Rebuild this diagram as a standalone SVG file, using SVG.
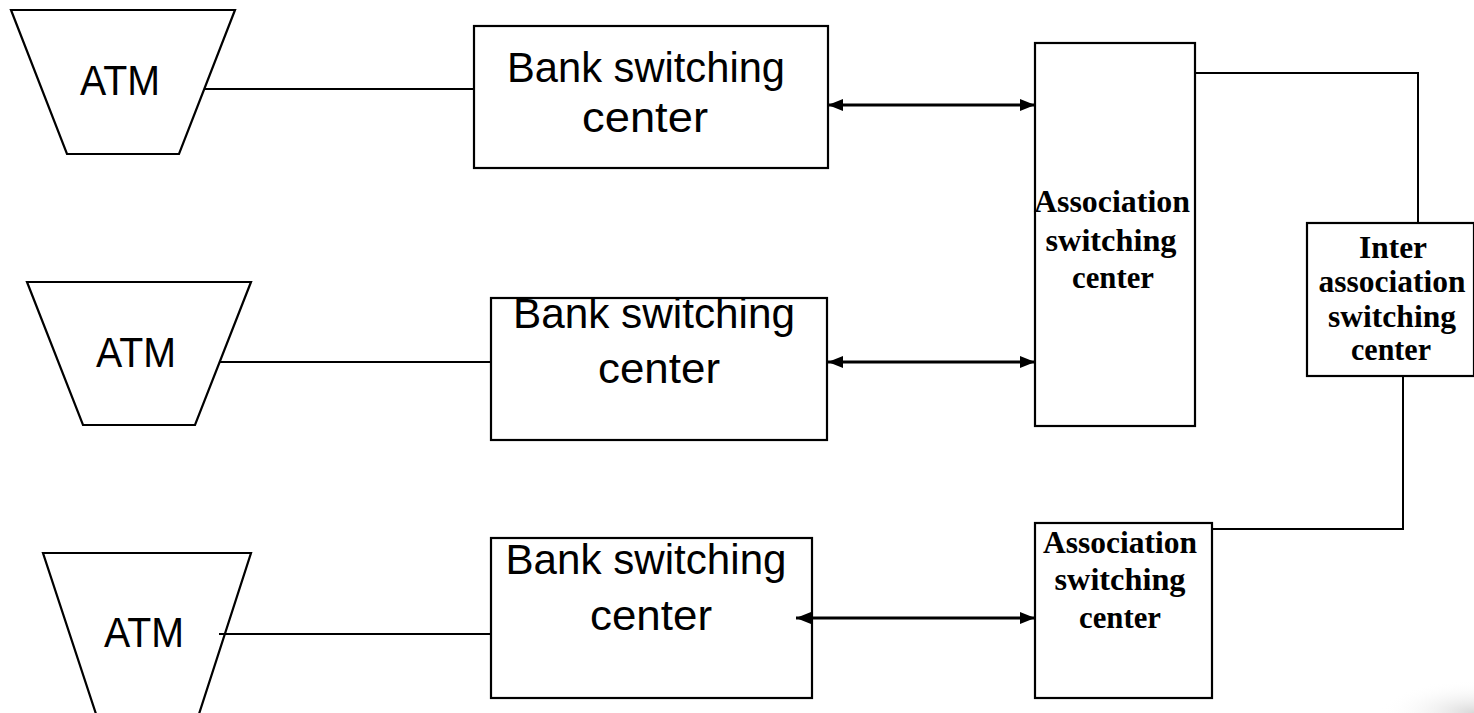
<svg xmlns="http://www.w3.org/2000/svg" width="1474" height="713" viewBox="0 0 1474 713">
  <defs>
    <marker id="arrow" viewBox="0 0 15 12" refX="15" refY="6" markerWidth="15" markerHeight="12" markerUnits="userSpaceOnUse" orient="auto-start-reverse">
      <path d="M0,0 L15,6 L0,12 Z" fill="#000"/>
    </marker>
    <radialGradient id="curl" cx="1" cy="1" r="1">
      <stop offset="0" stop-color="#d8d8d8"/>
      <stop offset="1" stop-color="#ffffff" stop-opacity="0"/>
    </radialGradient>
    <style>
      .shape { fill: #fff; stroke: #000; stroke-width: 2.2; }
      .wire { fill: none; stroke: #000; stroke-width: 2; }
      .link { fill: none; stroke: #000; stroke-width: 3; }
      .sans { font-family: "Liberation Sans", Arial, sans-serif; font-size: 42px; fill: #000; text-anchor: middle; }
      .serif { font-family: "Liberation Serif", "Times New Roman", serif; font-weight: bold; font-size: 31px; fill: #000; text-anchor: middle; }
    </style>
  </defs>

  <rect width="1474" height="713" fill="#fff"/>
  <!-- soft shading in the lower right corner -->
  <rect x="1380" y="680" width="94" height="33" fill="url(#curl)"/>

  <!-- ATM terminals -->
  <g id="atm1">
    <polygon class="shape" points="11,10 235,10 179,154 67,154"/>
    <text class="sans" x="120" y="95" textLength="80" lengthAdjust="spacingAndGlyphs">ATM</text>
  </g>
  <g id="atm2">
    <polygon class="shape" points="27,282 251,282 195,425 83,425"/>
    <text class="sans" x="136" y="367" textLength="80" lengthAdjust="spacingAndGlyphs">ATM</text>
  </g>
  <g id="atm3">
    <polygon class="shape" points="43,553 251,553 199,714 96,714"/>
    <text class="sans" x="144" y="647" textLength="80" lengthAdjust="spacingAndGlyphs">ATM</text>
  </g>

  <!-- bank switching centers -->
  <g id="bank1">
    <rect class="shape" x="474" y="26" width="354" height="142"/>
    <text class="sans" x="646" y="82" textLength="278" lengthAdjust="spacingAndGlyphs">Bank switching</text>
    <text class="sans" x="645" y="132" textLength="126" lengthAdjust="spacingAndGlyphs">center</text>
  </g>
  <g id="bank2">
    <rect class="shape" x="491" y="298" width="336" height="142"/>
    <text class="sans" x="654" y="328" textLength="282" lengthAdjust="spacingAndGlyphs">Bank switching</text>
    <text class="sans" x="659" y="383" textLength="122" lengthAdjust="spacingAndGlyphs">center</text>
  </g>
  <g id="bank3">
    <rect class="shape" x="491" y="538" width="321" height="160"/>
    <text class="sans" x="646" y="574" textLength="281" lengthAdjust="spacingAndGlyphs">Bank switching</text>
    <text class="sans" x="651" y="630" textLength="122" lengthAdjust="spacingAndGlyphs">center</text>
  </g>

  <!-- association switching centers -->
  <g id="assoc1">
    <rect class="shape" x="1035" y="43" width="160" height="383"/>
    <text class="serif" x="1112" y="212" textLength="156" lengthAdjust="spacingAndGlyphs">Association</text>
    <text class="serif" x="1111" y="251" textLength="131" lengthAdjust="spacingAndGlyphs">switching</text>
    <text class="serif" x="1113" y="288" textLength="82" lengthAdjust="spacingAndGlyphs">center</text>
  </g>
  <g id="assoc2">
    <rect class="shape" x="1035" y="523" width="177" height="175"/>
    <text class="serif" x="1120" y="553" textLength="154" lengthAdjust="spacingAndGlyphs">Association</text>
    <text class="serif" x="1120" y="590" textLength="131" lengthAdjust="spacingAndGlyphs">switching</text>
    <text class="serif" x="1120" y="628" textLength="82" lengthAdjust="spacingAndGlyphs">center</text>
  </g>

  <!-- inter-association switching center -->
  <g id="inter">
    <rect class="shape" x="1307" y="223" width="167" height="153"/>
    <text class="serif" x="1393" y="258" textLength="68" lengthAdjust="spacingAndGlyphs">Inter</text>
    <text class="serif" x="1392" y="292" textLength="147" lengthAdjust="spacingAndGlyphs">association</text>
    <text class="serif" x="1392" y="327" textLength="128" lengthAdjust="spacingAndGlyphs">switching</text>
    <text class="serif" x="1391" y="360" textLength="80" lengthAdjust="spacingAndGlyphs">center</text>
  </g>

  <!-- connectors, drawn over the boxes -->
  <g id="connectors">
    <line class="wire" x1="205" y1="89" x2="474" y2="89"/>
    <line class="wire" x1="220" y1="362" x2="491" y2="362"/>
    <line class="wire" x1="219" y1="634" x2="491" y2="634"/>
    <line class="link" x1="828" y1="105" x2="1035" y2="105" marker-start="url(#arrow)" marker-end="url(#arrow)"/>
    <line class="link" x1="828" y1="362" x2="1035" y2="362" marker-start="url(#arrow)" marker-end="url(#arrow)"/>
    <line class="link" x1="796" y1="618" x2="1035" y2="618" marker-start="url(#arrow)" marker-end="url(#arrow)"/>
    <polyline class="wire" points="1195,73 1418,73 1418,223"/>
    <polyline class="wire" points="1403,376 1403,529 1212,529"/>
  </g>
</svg>
